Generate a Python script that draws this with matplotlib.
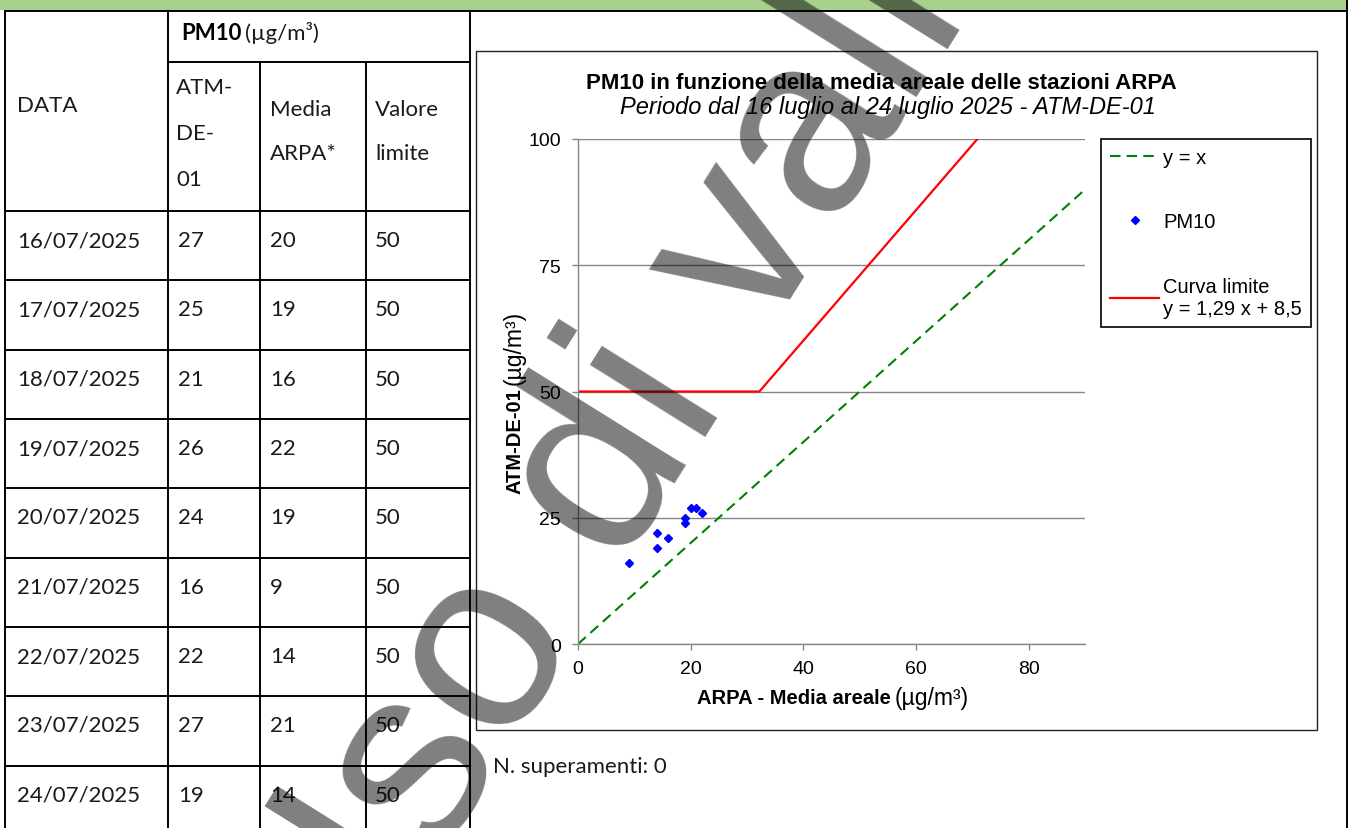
import matplotlib
matplotlib.use("Agg")
import matplotlib.pyplot as plt
from matplotlib.patches import Rectangle

# ---------------- data ----------------
dates = ["16/07/2025", "17/07/2025", "18/07/2025", "19/07/2025", "20/07/2025",
         "21/07/2025", "22/07/2025", "23/07/2025", "24/07/2025"]
atm = [27, 25, 21, 26, 24, 16, 22, 27, 19]
arpa = [20, 19, 16, 22, 19, 9, 14, 21, 14]
limit = [50, 50, 50, 50, 50, 50, 50, 50, 50]

ref_x = [0, 90]
ref_y = [0, 90]
curve_x = [0, 32.2, 70.9]
curve_y = [50, 50, 100]

x_ticks = [0, 20, 40, 60, 80]
y_ticks = [0, 25, 50, 75, 100]

title = "PM10 in funzione della media areale delle stazioni ARPA"
subtitle = "Periodo dal 16 luglio al 24 luglio 2025 - ATM-DE-01"
n_superamenti = 0

W, H = 1349, 829
fig = plt.figure(figsize=(W / 100, H / 100), dpi=100)

bg = fig.add_axes([0, 0, 1, 1])
bg.set_xlim(0, W)
bg.set_ylim(H, 0)
bg.axis("off")

TF = ["Lato", "DejaVu Sans"]
AF = ["Liberation Sans", "DejaVu Sans"]
lw = 1.4
tc = "#1a1a1a"

# green band and outer frame
bg.add_patch(Rectangle((0, 0), 1347, 11, facecolor="#a9d18e", edgecolor="none"))
bg.plot([5, 1347], [11.5, 11.5], color="black", lw=lw)
bg.plot([1347, 1347], [0, H], color="black", lw=lw)
bg.plot([5, 5], [11.5, H], color="black", lw=lw)

# table grid
row_tops = [212, 281, 351, 420, 489, 559, 628, 697, 767]
bg.plot([168, 168], [11.5, H], color="black", lw=lw)
bg.plot([470, 470], [11.5, H], color="black", lw=lw)
for cx in (260, 366):
    bg.plot([cx, cx], [63, H], color="black", lw=lw)
bg.plot([168, 470], [63, 63], color="black", lw=lw)
for ry in row_tops:
    bg.plot([5, 470], [ry, ry], color="black", lw=lw)

fs_t = 16
t1 = bg.text(181, 40, "PM10", fontsize=fs_t, family=TF, weight="bold", va="baseline", ha="left", color="black")
fig.canvas.draw()
r = fig.canvas.get_renderer()
bb = t1.get_window_extent(r)
bg.text(181 + bb.width + 4, 40, "(µg/m³)", fontsize=fs_t, family=TF, va="baseline", ha="left", color=tc)
bg.text(17, 106, "DATA", fontsize=fs_t, family=TF, va="center", ha="left", color=tc)
bg.text(176, 134, "ATM-\nDE-\n01", fontsize=fs_t, family=TF, va="center", ha="left", linespacing=2.6, color=tc)
bg.text(270, 132, "Media\nARPA*", fontsize=fs_t, family=TF, va="center", ha="left", linespacing=2.45, color=tc)
bg.text(375, 132, "Valore\nlimite", fontsize=fs_t, family=TF, va="center", ha="left", linespacing=2.45, color=tc)

for i, rt in enumerate(row_tops):
    yb = rt + 35
    bg.text(17, yb, dates[i], fontsize=fs_t, family=TF, va="baseline", ha="left", color=tc)
    bg.text(178, yb, str(atm[i]), fontsize=fs_t, family=TF, va="baseline", ha="left", color=tc)
    bg.text(270, yb, str(arpa[i]), fontsize=fs_t, family=TF, va="baseline", ha="left", color=tc)
    bg.text(375, yb, str(limit[i]), fontsize=fs_t, family=TF, va="baseline", ha="left", color=tc)

bg.text(493, 767, f"N. superamenti: {n_superamenti}", fontsize=fs_t, family=TF,
        va="center", ha="left", color=tc)

# chart frame
bg.add_patch(Rectangle((476, 52), 1317 - 476, 731 - 52, facecolor="none", edgecolor="#222222", lw=1.0))

# titles
bg.text(881, 83, title, fontsize=16, family=AF, weight="bold", ha="center", va="center")
bg.text(888, 107, subtitle, fontsize=17, family=AF, style="italic", ha="center", va="center")

# ---------------- chart ----------------
px0, px1, py0, py1 = 578, 1085, 140, 645
ax = fig.add_axes([px0 / W, 1 - py1 / H, (px1 - px0) / W, (py1 - py0) / H])
ax.set_xlim(0, 90)
ax.set_ylim(0, 100)
ax.set_facecolor("none")
for s in ("top", "right"):
    ax.spines[s].set_visible(False)
for s in ("left", "bottom"):
    ax.spines[s].set_color("#868686")
    ax.spines[s].set_linewidth(1.0)
ax.set_xticks(x_ticks)
ax.set_yticks(y_ticks)
ax.yaxis.grid(True, color="#868686", lw=1.0)
ax.set_axisbelow(True)
ax.tick_params(axis="both", colors="#868686", labelcolor="black", labelsize=14, length=4.5, width=1.0)
ax.tick_params(axis="x", pad=7)
ax.tick_params(axis="y", pad=8)
for lab in ax.get_xticklabels() + ax.get_yticklabels():
    lab.set_family(AF)

ax.plot(ref_x, ref_y, color="#008000", lw=1.5, dashes=(5, 3), label="y = x")
ax.plot(arpa, atm, linestyle="none", marker="D", markersize=4.0, color="#0000ff", label="PM10")
ax.plot(curve_x, curve_y, color="#ff0000", lw=1.6, label="Curva limite\ny = 1,29 x + 8,5")

leg = fig.legend(loc="upper left", bbox_to_anchor=(1101 / W, 1 - 140 / H), borderaxespad=0,
                 frameon=True, fancybox=False, edgecolor="black", framealpha=1,
                 prop={"family": AF, "size": 14.5}, labelspacing=2.25, handlelength=2.45,
                 handletextpad=0.2, borderpad=0.45, markerscale=1.0)
leg.get_frame().set_linewidth(1.2)

# axis labels
yl1 = bg.text(515, 494, "ATM-DE-01", fontsize=14.5, family=AF, weight="bold", rotation=90,
              ha="center", va="bottom")
fig.canvas.draw()
hb = yl1.get_window_extent(r).height
bg.text(514, 494 - hb - 3, "(µg/m³)", fontsize=16.5, family=AF, rotation=90, ha="center", va="bottom")

xl1 = bg.text(697, 699, "ARPA - Media areale", fontsize=14.5, family=AF, weight="bold", ha="left", va="center")
fig.canvas.draw()
wb = xl1.get_window_extent(r).width
bg.text(697 + wb + 4, 698, "(µg/m³)", fontsize=16.5, family=AF, ha="left", va="center")

# watermark
fig.text(340 / W, 1 - 1020 / H, "Uso di validazione", fontsize=185, family=AF,
         color="black", alpha=0.5, rotation=58, rotation_mode="anchor",
         ha="left", va="baseline", zorder=100)

fig.savefig("out.png", dpi=100)
